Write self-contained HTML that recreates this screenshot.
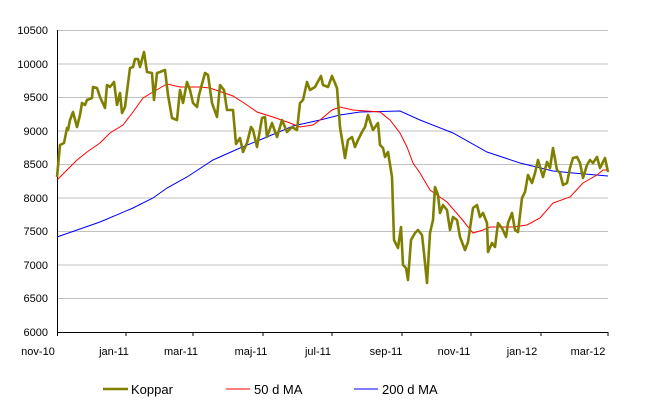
<!DOCTYPE html><html><head><style>body{margin:0;background:#fff}svg{display:block;font-family:"Liberation Sans",Arial,sans-serif}</style></head><body>
<svg width="646" height="417" viewBox="0 0 646 417">
<g stroke="#c0c0c0" stroke-width="1">
<line x1="57" x2="608" y1="30.5" y2="30.5"/><line x1="57" x2="608" y1="64" y2="64"/><line x1="57" x2="608" y1="97.5" y2="97.5"/><line x1="57" x2="608" y1="131" y2="131"/><line x1="57" x2="608" y1="164.5" y2="164.5"/><line x1="57" x2="608" y1="198" y2="198"/><line x1="57" x2="608" y1="231.5" y2="231.5"/><line x1="57" x2="608" y1="265" y2="265"/><line x1="57" x2="608" y1="298.5" y2="298.5"/>
</g>
<g stroke="#000" stroke-width="1">
<line x1="57.5" x2="57.5" y1="30" y2="332"/><line x1="57" x2="608" y1="332.5" y2="332.5"/>
<line x1="57.5" x2="57.5" y1="332" y2="336"/><line x1="126" x2="126" y1="332" y2="336"/><line x1="193" x2="193" y1="332" y2="336"/><line x1="263" x2="263" y1="332" y2="336"/><line x1="332" x2="332" y1="332" y2="336"/><line x1="402" x2="402" y1="332" y2="336"/><line x1="471" x2="471" y1="332" y2="336"/><line x1="541" x2="541" y1="332" y2="336"/><line x1="608" x2="608" y1="332" y2="336"/>
</g>
<g font-size="11" fill="#000" text-anchor="end">
<text x="48" y="34">10500</text><text x="48" y="68">10000</text><text x="48" y="101">9500</text><text x="48" y="135">9000</text><text x="48" y="168">8500</text><text x="48" y="202">8000</text><text x="48" y="235">7500</text><text x="48" y="269">7000</text><text x="48" y="302">6500</text><text x="48" y="336">6000</text>
</g>
<g font-size="11" fill="#000" text-anchor="middle">
<text x="38" y="355">nov-10</text><text x="114" y="355">jan-11</text><text x="181" y="355">mar-11</text><text x="251" y="355">maj-11</text><text x="318" y="355">jul-11</text><text x="386" y="355">sep-11</text><text x="454" y="355">nov-11</text><text x="522" y="355">jan-12</text><text x="588" y="355">mar-12</text>
</g>
<polyline fill="none" stroke="#0000ff" stroke-width="1" points="57,237 100,222 133,208 153,198 167,188 187,177 213,160 240,148 267,137 293,126 320,120 340,115 360,112 400,111 420,120 453,133 487,152 520,163 553,171 573,173 608,176"/>
<polyline fill="none" stroke="#ff0000" stroke-width="1" points="57,180 67,170 77,160 87,152 100,143 110,133 123,125 133,112 143,98 153,92 167,84 180,87 200,87 210,88 233,96 247,105 257,112 273,117 290,123 300,127 313,125 320,120 332,110 340,107 353,110 380,112 390,120 400,133 407,147 413,163 420,173 430,190 447,202 460,217 473,233 483,230 490,227 513,227 527,225 540,218 553,203 570,197 583,183 597,175 603,170 608,170"/>
<polyline fill="none" stroke="#808000" stroke-width="2.6" stroke-linejoin="round" points="57,177 60,145 64,143 67,128 68,130 70,120 73,112 77,127 80,115 82,103 85,105 87,100 92,98 93,87 97,88 100,97 105,108 107,85 110,87 114,82 117,105 120,93 122,113 125,107 130,68 133,67 135,59 138,59 140,67 144,52 147,72 152,73 154,100 157,73 160,72 165,70 168,95 172,118 177,120 180,90 183,103 187,82 190,90 193,103 197,107 199,95 205,73 208,75 212,103 217,117 220,85 224,90 227,110 233,110 236,144 240,138 243,152 247,143 251,127 253,130 257,147 262,118 265,117 267,137 272,123 277,137 282,120 287,132 292,127 297,130 300,103 303,100 307,82 310,90 315,87 321,76 323,85 328,87 332,76 337,88 340,127 345,158 348,140 352,137 355,147 358,140 362,132 365,127 368,115 373,130 378,123 380,145 383,148 385,157 388,152 392,177 394,240 398,248 401,227 403,265 406,268 408,280 411,240 415,233 418,230 422,235 424,253 427,283 430,233 433,220 435,187 438,195 440,213 443,205 447,210 450,230 453,217 457,220 460,237 465,250 468,242 473,208 477,205 480,217 483,213 487,223 488,252 492,243 495,247 498,223 502,228 506,237 508,223 512,213 515,230 518,232 522,198 525,192 528,175 532,183 535,173 538,160 543,177 547,162 550,168 553,148 557,170 560,173 563,185 567,183 570,168 573,158 577,157 580,163 583,178 587,165 590,160 593,163 597,157 600,168 605,158 608,172"/>
<line x1="103" x2="128" y1="389" y2="389" stroke="#808000" stroke-width="2.6"/>
<text x="131" y="394" font-size="13">Koppar</text>
<line x1="226" x2="250" y1="389" y2="389" stroke="#ff0000" stroke-width="1"/>
<text x="254" y="394" font-size="13">50 d MA</text>
<line x1="354" x2="378" y1="389" y2="389" stroke="#0000ff" stroke-width="1"/>
<text x="382" y="394" font-size="13">200 d MA</text>
</svg>
</body></html>
